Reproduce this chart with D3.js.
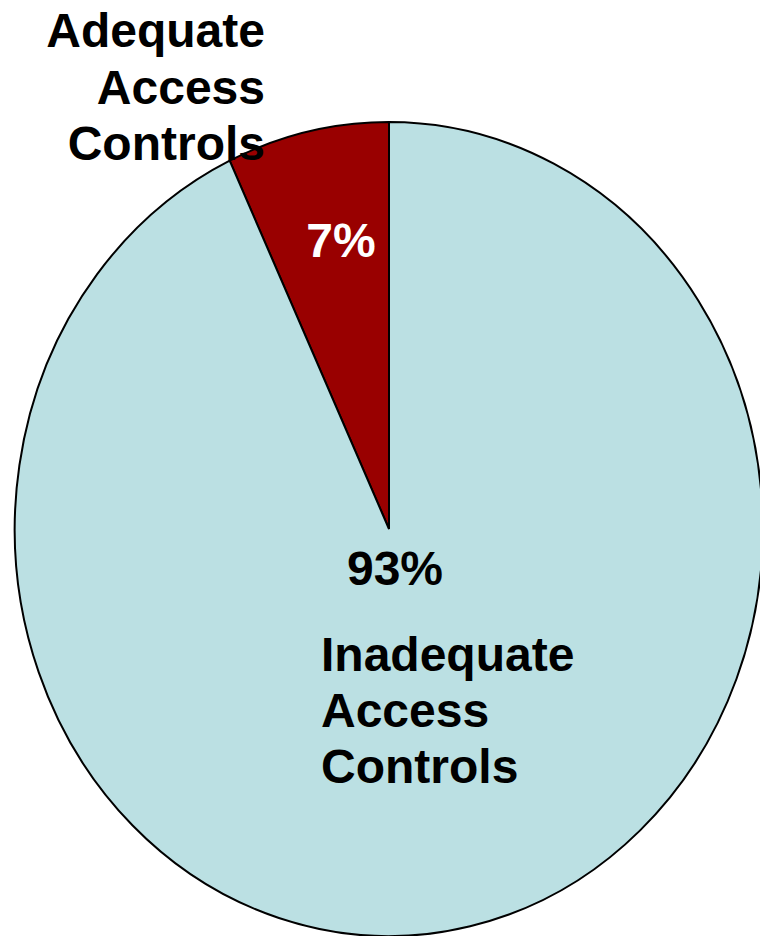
<!DOCTYPE html>
<html><head><meta charset="utf-8">
<script src="https://cdn.jsdelivr.net/npm/d3@7"></script>
<style>body{margin:0;background:#fff}svg{display:block}</style>
</head><body>
<script>
const categories = ["Adequate Access Controls", "Inadequate Access Controls"];
const values = [7, 93];
const valueLabels = ["7%", "93%"];
const colors = ["#990000", "#BBE0E3"];

const W = 760, H = 936;
const cx = 389, cy = 529, rx = 374, ry = 407;
const svg = d3.select("body").append("svg").attr("width", W).attr("height", H);

const pie = d3.pie().sort(null).value(d => d)
  .startAngle(0).endAngle(-2 * Math.PI);
const arcs = pie(values);
const arc = d3.arc().innerRadius(0).outerRadius(1);

const g = svg.append("g").attr("transform", `translate(${cx},${cy}) scale(${rx},${ry})`);
g.selectAll("path").data(arcs).join("path")
  .attr("d", arc)
  .attr("fill", (d, i) => colors[i])
  .attr("stroke", "#000")
  .attr("stroke-width", 2)
  .attr("vector-effect", "non-scaling-stroke");

const font = "'Liberation Sans', Arial, sans-serif";
function txt(x, y, s, anchor, fill) {
  svg.append("text").attr("x", x).attr("y", y).text(s)
    .attr("font-family", font).attr("font-weight", "bold").attr("font-size", 48)
    .attr("text-anchor", anchor).attr("fill", fill);
}
// Category labels
["Adequate", "Access", "Controls"].forEach((s, i) => txt(265, 47 + i * 56.5, s, "end", "#000"));
["Inadequate", "Access", "Controls"].forEach((s, i) => txt(321, 671 + i * 56, s, "start", "#000"));
// Value labels
txt(341, 257, valueLabels[0], "middle", "#fff");
txt(395, 585, valueLabels[1], "middle", "#000");
</script>
</body></html>
